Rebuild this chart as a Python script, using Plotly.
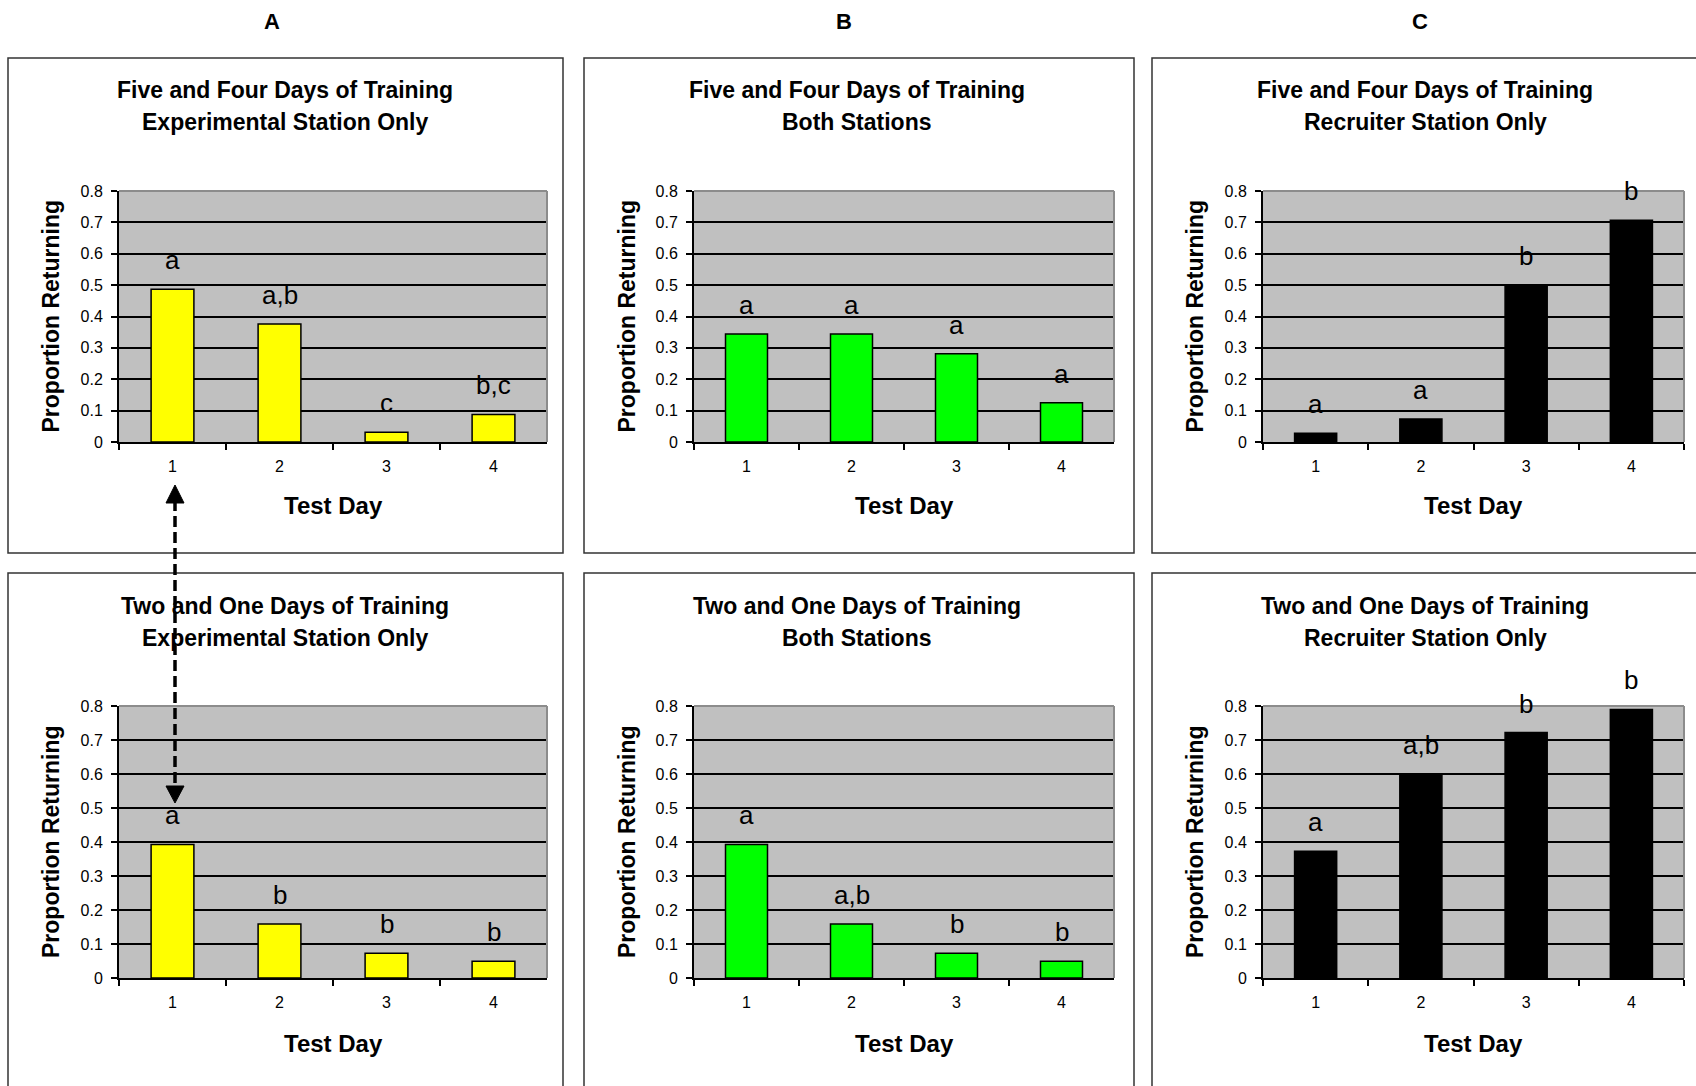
import plotly.graph_objects as go

W, H = 1696, 1086

# ---------------- data ----------------
days = ["1", "2", "3", "4"]

five_four_experimental = [0.487, 0.376, 0.031, 0.088]
five_four_both = [0.344, 0.344, 0.281, 0.125]
five_four_recruiter = [0.028, 0.073, 0.500, 0.707]
two_one_experimental = [0.393, 0.159, 0.073, 0.049]
two_one_both = [0.393, 0.159, 0.073, 0.049]
two_one_recruiter = [0.373, 0.599, 0.722, 0.790]

letters_ff_experimental = ["a", "a,b", "c", "b,c"]
letters_ff_both = ["a", "a", "a", "a"]
letters_ff_recruiter = ["a", "a", "b", "b"]
letters_to_experimental = ["a", "b", "b", "b"]
letters_to_both = ["a", "a,b", "b", "b"]
letters_to_recruiter = ["a", "a,b", "b", "b"]

column_headers = ["A", "B", "C"]
row_titles = ["Five and Four Days of Training", "Two and One Days of Training"]
station_titles = ["Experimental Station Only", "Both Stations", "Recruiter Station Only"]
y_tick_vals = [0, 0.1, 0.2, 0.3, 0.4, 0.5, 0.6, 0.7, 0.8]
y_tick_text = ["0", "0.1", "0.2", "0.3", "0.4", "0.5", "0.6", "0.7", "0.8"]
x_title = "Test Day"
y_title = "Proportion Returning"

# ---------------- layout geometry (pixels) ----------------
FONT = "Liberation Sans, Arial, sans-serif"
col_plot_x = [(119, 547), (694, 1114), (1263, 1684)]
row_plot_y = [(191, 442), (706, 978)]  # (top, bottom)
col_box_x = [(8, 563), (584, 1134), (1152, 1720)]
row_box_y = [(58, 553), (573, 1120)]
header_x = [272, 844, 1420]
title_x = [285, 857, 1425]
title_y = [(90, 122), (606, 638)]
ytitle_x = [51, 627, 1195]
xtitle_y = [505, 1043]


def px(x):
    return x / W


def py(y):
    return 1 - y / H


panels = [
    (0, 0, five_four_experimental, letters_ff_experimental, "#FFFF00"),
    (0, 1, five_four_both, letters_ff_both, "#00FF00"),
    (0, 2, five_four_recruiter, letters_ff_recruiter, "#000000"),
    (1, 0, two_one_experimental, letters_to_experimental, "#FFFF00"),
    (1, 1, two_one_both, letters_to_both, "#00FF00"),
    (1, 2, two_one_recruiter, letters_to_recruiter, "#000000"),
]

fig = go.Figure()
annotations = []
shapes = []

for i, (r, c, vals, letters, color) in enumerate(panels, start=1):
    xa = "x" if i == 1 else f"x{i}"
    ya = "y" if i == 1 else f"y{i}"
    fig.add_trace(go.Bar(
        x=days, y=vals, xaxis=xa, yaxis=ya, width=0.4,
        marker=dict(color=color, line=dict(color="#000000", width=1.5)),
        showlegend=False, hoverinfo="skip",
    ))
    x0, x1 = col_plot_x[c]
    yt, yb = row_plot_y[r]
    key = "" if i == 1 else str(i)
    fig.layout["xaxis" + key] = dict(
        domain=[px(x0), px(x1)], anchor=ya, type="category",
        categoryorder="array", categoryarray=days,
        range=[-0.5, 3.5], tickson="boundaries", ticks="outside",
        ticklen=6, tickwidth=2, tickcolor="#000000",
        showline=True, linecolor="#000000", linewidth=2,
        showgrid=False, zeroline=False, ticklabelstandoff=9,
        tickfont=dict(family=FONT, size=16, color="#000000"),
        fixedrange=True, automargin=False,
    )
    fig.layout["yaxis" + key] = dict(
        domain=[py(yb), py(yt)], anchor=xa, range=[0, 0.8],
        tickmode="array", tickvals=y_tick_vals, ticktext=y_tick_text,
        ticks="outside", ticklen=6, tickwidth=2, tickcolor="#000000",
        showline=True, linecolor="#000000", linewidth=2,
        showgrid=True, gridcolor="#000000", gridwidth=2,
        zeroline=False, ticklabelstandoff=5,
        tickfont=dict(family=FONT, size=16, color="#000000"),
        fixedrange=True, automargin=False,
    )
    # gray top / right border of plot area
    shapes.append(dict(type="line", xref=xa + " domain", yref=ya + " domain",
                       x0=0, x1=1, y0=1, y1=1, layer="above",
                       line=dict(color="#8c8c8c", width=2)))
    shapes.append(dict(type="line", xref=xa + " domain", yref=ya + " domain",
                       x0=1, x1=1, y0=0, y1=1, layer="above",
                       line=dict(color="#8c8c8c", width=2)))
    # significance letters (placed at the category index of each bar)
    for k, (v, t) in enumerate(zip(vals, letters)):
        annotations.append(dict(
            xref=xa, yref=ya, x=k, y=v, yshift=29, text=t, showarrow=False,
            yanchor="middle", xanchor="center",
            font=dict(family=FONT, size=26, color="#000000")))
    # panel titles
    l1, l2 = title_y[r]
    annotations.append(dict(xref="paper", yref="paper", x=px(title_x[c]), y=py(l1),
                            text="<b>" + row_titles[r] + "</b>", showarrow=False,
                            xanchor="center", yanchor="middle",
                            font=dict(family=FONT, size=23, color="#000000")))
    annotations.append(dict(xref="paper", yref="paper", x=px(title_x[c]), y=py(l2),
                            text="<b>" + station_titles[c] + "</b>", showarrow=False,
                            xanchor="center", yanchor="middle",
                            font=dict(family=FONT, size=23, color="#000000")))
    # axis titles
    annotations.append(dict(xref="paper", yref="paper", x=px((x0 + x1) / 2),
                            y=py(xtitle_y[r]), text="<b>" + x_title + "</b>",
                            showarrow=False, xanchor="center", yanchor="middle",
                            font=dict(family=FONT, size=24, color="#000000")))
    annotations.append(dict(xref="paper", yref="paper", x=px(ytitle_x[c]),
                            y=py((yt + yb) / 2), text="<b>" + y_title + "</b>",
                            textangle=-90, showarrow=False, xanchor="center",
                            yanchor="middle",
                            font=dict(family=FONT, size=23, color="#000000")))
    # panel frame
    bx0, bx1 = col_box_x[c]
    by0, by1 = row_box_y[r]
    shapes.append(dict(type="rect", xref="paper", yref="paper",
                       x0=px(bx0), x1=px(bx1), y0=py(by0), y1=py(by1),
                       layer="below", line=dict(color="#333333", width=1.5),
                       fillcolor="rgba(0,0,0,0)"))

# column headers
for hx, ht in zip(header_x, column_headers):
    annotations.append(dict(xref="paper", yref="paper", x=px(hx), y=py(22),
                            text="<b>" + ht + "</b>", showarrow=False,
                            xanchor="center", yanchor="middle",
                            font=dict(family=FONT, size=22, color="#000000")))

# dashed double-headed arrow linking panel A plots
ax_x = 175
shapes.append(dict(type="line", xref="paper", yref="paper",
                   x0=px(ax_x), x1=px(ax_x), y0=py(500), y1=py(790),
                   layer="above", line=dict(color="#000000", width=3.5, dash="11px,5px")))
shapes.append(dict(type="path", xref="paper", yref="paper", layer="above",
                   path=f"M {px(ax_x-9)},{py(503)} L {px(ax_x)},{py(485)} L {px(ax_x+9)},{py(503)} Z",
                   fillcolor="#000000", line=dict(color="#000000", width=1)))
shapes.append(dict(type="path", xref="paper", yref="paper", layer="above",
                   path=f"M {px(ax_x-9)},{py(786)} L {px(ax_x)},{py(803)} L {px(ax_x+9)},{py(786)} Z",
                   fillcolor="#000000", line=dict(color="#000000", width=1)))

fig.update_layout(
    width=W, height=H,
    margin=dict(l=0, r=0, t=0, b=0, pad=0, autoexpand=False),
    paper_bgcolor="#FFFFFF", plot_bgcolor="#C0C0C0",
    annotations=annotations, shapes=shapes, showlegend=False,
    font=dict(family=FONT, color="#000000"),
)

fig.write_html("out.html")
